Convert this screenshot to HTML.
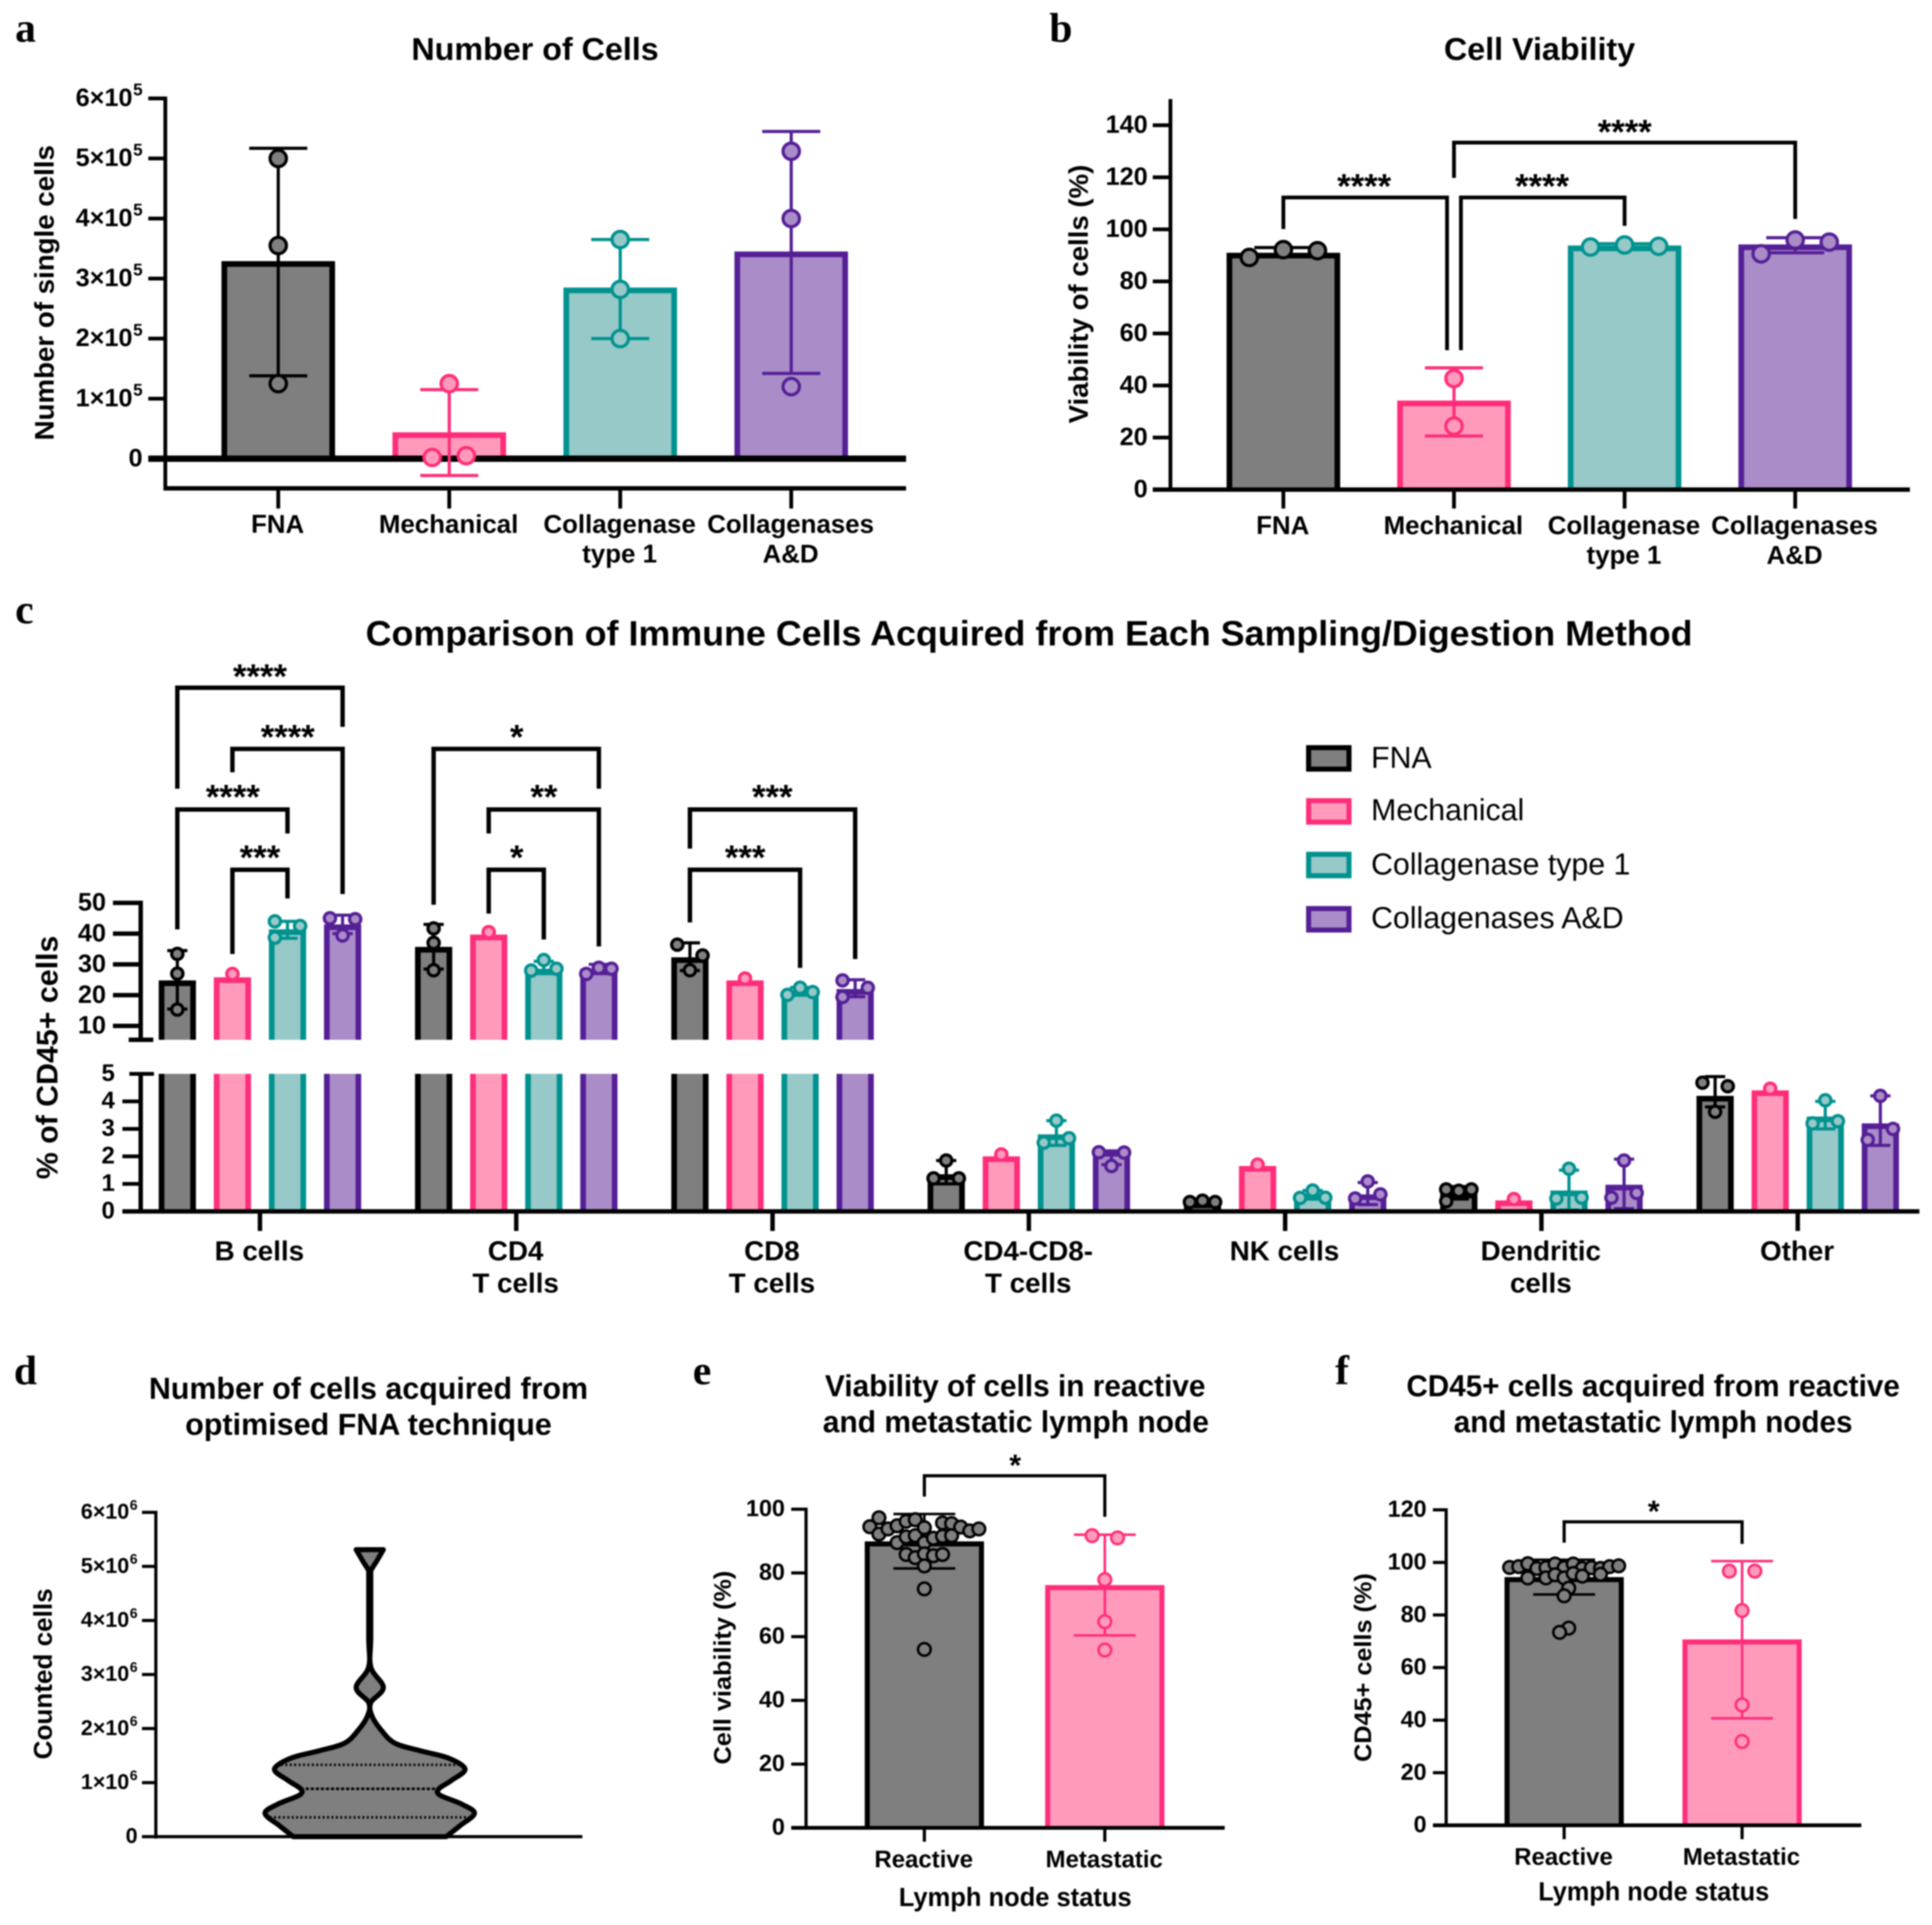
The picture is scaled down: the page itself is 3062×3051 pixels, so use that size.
<!DOCTYPE html>
<html lang="en">
<head>
<meta charset="utf-8">
<title>Immune cell sampling and digestion comparison</title>
<style>
html,body{margin:0;padding:0;background:#fff;}
svg{display:block;width:3062px;height:3051px;filter:blur(1px);}
text{font-family:"Liberation Sans",Arial,sans-serif;fill:#000;}
.title{font-weight:700;text-anchor:middle;}
.panel{font-family:"Liberation Serif",serif;font-weight:700;font-size:66px;}
</style>
</head>
<body>
<svg id="figure" xmlns="http://www.w3.org/2000/svg" width="3062" height="3051" viewBox="0 0 3062 3051">
<rect x="0" y="0" width="3062" height="3051" fill="#fff"/>
<text class="panel" x="24" y="66">a</text>
<text class="panel" x="1663" y="66">b</text>
<text class="panel" x="24" y="988">c</text>
<text class="panel" x="22" y="2194">d</text>
<text class="panel" x="1098" y="2194">e</text>
<text class="panel" x="2116" y="2194">f</text>
<text class="title" x="848" y="95" font-size="50" textLength="392" lengthAdjust="spacingAndGlyphs">Number of Cells</text>
<text class="title" x="2440" y="95" font-size="50" textLength="303" lengthAdjust="spacingAndGlyphs">Cell Viability</text>
<text class="title" x="1631" y="1023" font-size="56" textLength="2103" lengthAdjust="spacingAndGlyphs">Comparison of Immune Cells Acquired from Each Sampling/Digestion Method</text>
<text class="title" x="584" y="2217" font-size="48" textLength="696" lengthAdjust="spacingAndGlyphs">Number of cells acquired from</text>
<text class="title" x="584" y="2274" font-size="48" textLength="581" lengthAdjust="spacingAndGlyphs">optimised FNA technique</text>
<text class="title" x="1609" y="2213" font-size="48" textLength="603" lengthAdjust="spacingAndGlyphs">Viability of cells in reactive</text>
<text class="title" x="1610" y="2270" font-size="48" textLength="612" lengthAdjust="spacingAndGlyphs">and metastatic lymph node</text>
<text class="title" x="2620" y="2213" font-size="48" textLength="782" lengthAdjust="spacingAndGlyphs">CD45+ cells acquired from reactive</text>
<text class="title" x="2620" y="2270" font-size="48" textLength="632" lengthAdjust="spacingAndGlyphs">and metastatic lymph nodes</text>
<text class="title" x="1609" y="3021" font-size="42" textLength="369" lengthAdjust="spacingAndGlyphs">Lymph node status</text>
<text class="title" x="2621" y="3012" font-size="42" textLength="366" lengthAdjust="spacingAndGlyphs">Lymph node status</text>
<text class="title" transform="translate(85 464) rotate(-90)" font-size="43" textLength="468" lengthAdjust="spacingAndGlyphs">Number of single cells</text>
<text class="title" transform="translate(1724 466) rotate(-90)" font-size="43" textLength="410" lengthAdjust="spacingAndGlyphs">Viability of cells (%)</text>
<text class="title" transform="translate(91 1676) rotate(-90)" font-size="47" textLength="386" lengthAdjust="spacingAndGlyphs">% of CD45+ cells</text>
<text class="title" transform="translate(82 2653) rotate(-90)" font-size="41" textLength="271" lengthAdjust="spacingAndGlyphs">Counted cells</text>
<text class="title" transform="translate(1158 2643) rotate(-90)" font-size="38" textLength="307" lengthAdjust="spacingAndGlyphs">Cell viability (%)</text>
<text class="title" transform="translate(2173 2643) rotate(-90)" font-size="38" textLength="299" lengthAdjust="spacingAndGlyphs">CD45+ cells (%)</text>
<g id="chart-a"></g>
<g id="chart-b"></g>
<g id="chart-c"></g>
<g id="chart-d"></g>
<g id="chart-e"></g>
<g id="chart-f"></g>
</svg>
<script>
/* ---------- shared series ---------- */
const seriesNames = ['FNA', 'Mechanical', 'Collagenase type 1', 'Collagenases A&D'];
const methodCategories = [['FNA'], ['Mechanical'], ['Collagenase', 'type 1'], ['Collagenases', 'A&D']];

/* ---------- panel a ---------- */
const aTickValues = [0, 100000, 200000, 300000, 400000, 500000, 600000];
const aTickLabels = ['0', '1×10^5', '2×10^5', '3×10^5', '4×10^5', '5×10^5', '6×10^5'];
const aMeans = [329000, 44000, 285000, 345000];
const aErrLow = [138000, -28000, 200000, 142000];
const aErrHigh = [517000, 115000, 365000, 545000];
const aPoints = [[500000, 355000, 125000], [125000, 2000, 5000], [365000, 282000, 200000], [512000, 400000, 120000]];
const aPointSlots = [[0, 0, 0], [0, -1, 1], [0, 0, 0], [0, 0, 0]];

/* ---------- panel b ---------- */
const bTickValues = [0, 20, 40, 60, 80, 100, 120, 140];
const bTickLabels = ['0', '20', '40', '60', '80', '100', '120', '140'];
const bMeans = [91, 34.2, 93.8, 94.2];
const bErrLow = [89.5, 20.6, 92.7, 91];
const bErrHigh = [93, 46.8, 94.5, 96.8];
const bPoints = [[89.2, 92.2, 91.8], [42.7, 24.4], [93.2, 94, 93.5], [90.6, 95.9, 95.1]];
const bPointSlots = [[-2, 0, 2], [0, 0], [-2, 0, 2], [-2, 0, 2]];

/* ---------- panel c ---------- */
const cCategories = [['B cells'], ['CD4', 'T cells'], ['CD8', 'T cells'], ['CD4-CD8-', 'T cells'], ['NK cells'], ['Dendritic', 'cells'], ['Other']];
const cHighTicks = [10, 20, 30, 40, 50];
const cLowTicks = [0, 1, 2, 3, 4, 5];
const cMeans = [[24.8, 25.8, 41.4, 43], [35.7, 39.7, 28.6, 28.6], [32.3, 24.8, 21.3, 22], [1.35, 2, 2.8, 2.2], [0.32, 1.65, 0.6, 0.62], [0.68, 0.4, 0.76, 0.97], [4.2, 4.4, 3.45, 3.2]];
const cErrLow = [[15.5, 25.8, 38.5, 40], [28.5, 39.7, 27, 27], [28, 24.8, 20, 19.5], [1, 2, 2.4, 1.7], [0.28, 1.65, 0.45, 0.25], [0.45, 0.4, 0.05, 0.1], [3.8, 4.4, 3, 2.4]];
const cErrHigh = [[34.5, 25.8, 44, 46], [43, 39.7, 31, 30], [37, 24.8, 22.5, 25], [1.85, 2, 3.3, 2.2], [0.38, 1.65, 0.76, 1.05], [0.9, 0.4, 1.5, 1.9], [4.9, 4.4, 4, 4.2]];
const cPoints = [
  [[33.4, 27, 15.3], [26.9], [44, 38.7, 42.5], [45, 39.4, 44.7]],
  [[41.7, 37, 28.1], [40.5], [28, 31.4, 28.6], [26.9, 28.9, 28.6]],
  [[36.4, 28.1, 32.9], [25.4], [20.1, 22.4, 21], [24.8, 19.4, 22.4]],
  [[1.2, 1.85, 1.2], [2.07], [2.5, 3.3, 2.66], [2.15, 1.65, 2.14]],
  [[0.34, 0.39, 0.34], [1.7], [0.49, 0.76, 0.5], [0.47, 1.09, 0.62]],
  [[0.8, 0.37, 0.75, 0.8], [0.45], [0.47, 1.55, 0.5], [0.5, 1.85, 0.67]],
  [[4.68, 3.62, 4.55], [4.46], [3.2, 4.04, 3.28], [2.6, 4.2, 3]]
];
const cPointSlots = [
  [[0, 0, 0], [0], [-1, -1, 1], [-1, 0, 1]],
  [[0, 0, 0], [0], [-1, 0, 1], [-1, 0, 1]],
  [[-1, 0, 1], [0], [-1, 0, 1], [-1, -1, 1]],
  [[-1, 0, 1], [0], [-1, 0, 1], [-1, 0, 1]],
  [[-1, 0, 1], [0], [-1, 0, 1], [-1, 0, 1]],
  [[-1, -1, 0, 1], [0], [-1, 0, 1], [-1, 0, 1]],
  [[-1, 0, 1], [0], [-1, 0, 1], [-1, 0, 1]]
];

/* ---------- panel d ---------- */
const dTickValues = [0, 1000000, 2000000, 3000000, 4000000, 5000000, 6000000];
const dTickLabels = ['0', '1×10^6', '2×10^6', '3×10^6', '4×10^6', '5×10^6', '6×10^6'];
const violinLevels = [0, 200000, 430000, 600000, 770000, 885000, 1040000, 1250000, 1455000, 1590000, 1730000, 1970000, 2240000, 2480000, 2760000, 3140000, 3700000, 4850000, 4920000, 5110000, 5310000];
const violinDensity = [73, 86, 100, 88, 67, 66, 78, 91, 75, 48, 24, 11, 2, 1, 13, 1, 1, 1, 1, 7, 13];
const violinQuartiles = [357000, 885000, 1330000];

/* ---------- panel e ---------- */
const statusCategories = [['Reactive'], ['Metastatic']];
const eTickValues = [0, 20, 40, 60, 80, 100];
const eTickLabels = ['0', '20', '40', '60', '80', '100'];
const eMeans = [89.9, 76.2];
const eErrLow = [81.4, 60.4];
const eErrHigh = [98.5, 92];
const eReactive = [97.3, 94.5, 92.2, 93.8, 94.8, 89.5, 96.2, 91.3, 96.7, 91.7, 94.2, 89.5, 90.9, 95.7, 91.5, 95.5, 91.7, 94.4, 93.2, 93.8, 85.8, 84.8, 86, 85.4, 85.8, 82.2, 75, 56];
const eReactiveSlots = [-5, -6, -5, -4, -3, -3, -2, -2, -1, -1, 0, 0, 1, 2, 2, 3, 3, 4, 5, 6, -2, -1, 0, 1, 2, 0, 0, 0];
const eMetastatic = [91.7, 91, 77.9, 64.7, 55.8];
const eMetastaticSlots = [-1.4, 1.4, 0, 0, 0];

/* ---------- panel f ---------- */
const fTickValues = [0, 20, 40, 60, 80, 100, 120];
const fTickLabels = ['0', '20', '40', '60', '80', '100', '120'];
const fMeans = [94.4, 70.7];
const fErrLow = [87.8, 40.7];
const fErrHigh = [101, 100.5];
const fReactive = [98.1, 98.4, 99.5, 97.7, 98, 99.4, 98, 99.4, 97.7, 98, 97.7, 98.4, 98.7, 94.1, 94.1, 95.3, 94.1, 95.8, 94.8, 95.5, 90.2, 87.3, 75, 73.4];
const fReactiveSlots = [-6, -5, -4, -3, -2, -1, 0, 1, 2, 3, 4, 5, 6, -4, -2, -1, 0, 1, 2, 4, 0.5, 0, 0.5, -0.5];
const fMetastatic = [96.7, 96.7, 81.7, 45.8, 31.9];
const fMetastaticSlots = [-1.4, 1.4, 0, 0, 0];

/* ---------- styling (not data) ---------- */
const FILLS = ['#7f7f7f', '#ff9abb', '#96c9c8', '#a98cc8'];
const STROKES = ['#000000', '#ff2d7a', '#00928f', '#551f96'];
const NS = 'http://www.w3.org/2000/svg';

function add(parent, tagName, attrs, name, text) {
  const node = document.createElementNS(NS, tagName);
  for (const key in attrs) node.setAttribute(key, attrs[key]);
  
  
  if (text !== undefined) node.textContent = text;
  parent.appendChild(node);
  return node;
}
function linear(d0, d1, r0, r1) {
  return function (v) { return r0 + (v - d0) * (r1 - r0) / (d1 - d0); };
}
function line(g, x1, y1, x2, y2, stroke, width, name) {
  return add(g, 'line', { x1: x1, y1: y1, x2: x2, y2: y2, stroke: stroke, 'stroke-width': width }, name);
}
function tickLabel(g, x, y, label, size, supSize, name) {
  const parts = label.split('^');
  const t = add(g, 'text', { x: x, y: y + size * 0.3, 'text-anchor': 'end', 'font-size': size, 'font-weight': 700 }, name, parts[0]);
  if (parts[1]) {
    const sup = add(t, 'tspan', { dy: -size * 0.42, 'font-size': supSize }, name + '-exponent', parts[1]);
    sup.setAttribute('dx', 1);
  }
}
function yAxis(g, y, values, labels, axisX, tickLeft, labelRight, top, bottom, width, size, supSize, key) {
  line(g, axisX, top, axisX, bottom, '#000', width, 'y-axis-line-' + key);
  values.forEach(function (v, i) {
    line(g, tickLeft, y(v), axisX + width / 2, y(v), '#000', width, 'y-tick-' + key + '-' + labels[i]);
    tickLabel(g, labelRight, y(v), labels[i], size, supSize, 'y-tick-label-' + key + '-' + labels[i]);
  });
}
function categoryLabels(g, x, categories, tickTop, tickBottom, width, lineY, size, key) {
  categories.forEach(function (lines, i) {
    const slug = lines[0].toLowerCase().replace(/[^a-z0-9]+/g, '-');
    line(g, x(i), tickTop, x(i), tickBottom, '#000', width, 'x-tick-' + key + '-' + slug);
    lines.forEach(function (s, j) {
      add(g, 'text', { x: x(i) - 1, y: lineY[j] + size * 0.28, 'text-anchor': 'middle', 'font-size': size, 'font-weight': 700 }, 'x-tick-label-' + key + '-' + slug + '-' + (j + 1), s);
    });
  });
}
function barRect(g, cx, top, base, w, sw, s, name) {
  add(g, 'rect', { x: cx - w / 2 + sw / 2, y: top + sw / 2, width: w - sw, height: base - top - sw / 2, fill: FILLS[s], stroke: 'none' }, name + '-fill');
  add(g, 'path', { d: 'M' + (cx - w / 2 + sw / 2) + ' ' + base + 'V' + (top + sw / 2) + 'H' + (cx + w / 2 - sw / 2) + 'V' + base, fill: 'none', stroke: STROKES[s], 'stroke-width': sw }, name);
}
function errorBar(g, cx, yLow, yHigh, halfCap, width, s, name) {
  line(g, cx, yLow, cx, yHigh, STROKES[s], width, name + '-stem');
  line(g, cx - halfCap, yHigh, cx + halfCap, yHigh, STROKES[s], width, name + '-cap-high');
  line(g, cx - halfCap, yLow, cx + halfCap, yLow, STROKES[s], width, name + '-cap-low');
}
function dot(g, x, y, r, sw, s, name) {
  add(g, 'circle', { cx: x, cy: y, r: r, fill: FILLS[s], stroke: STROKES[s], 'stroke-width': sw }, name);
}
function bracket(g, x1, x2, y, end1, end2, stars, starX, starY, size, width, name) {
  add(g, 'path', { d: 'M' + x1 + ' ' + end1 + 'V' + y + 'H' + x2 + 'V' + end2, fill: 'none', stroke: '#000', 'stroke-width': width }, name);
  add(g, 'text', { x: starX, y: starY + size * 0.41, 'text-anchor': 'middle', 'font-size': size, 'font-weight': 700 }, name + '-significance', stars);
}

/* ---------- panel a ---------- */
(function () {
  const g = document.getElementById('chart-a');
  const y = linear(0, 600000, 727, 156);
  const x = function (i) { return 441 + i * 271; };
  aMeans.forEach(function (m, i) {
    barRect(g, x(i), y(m), y(0), 180, 9, i, 'bar-a-' + i);
  });
  line(g, 235, y(0), 1436, y(0), '#000', 10, 'zero-line-a');
  aMeans.forEach(function (m, i) {
    errorBar(g, x(i), y(aErrLow[i]), y(aErrHigh[i]), 46, 5, i, 'error-bar-a-' + i);
    aPoints[i].forEach(function (p, j) {
      dot(g, x(i) + aPointSlots[i][j] * 27, y(p), 13, 5, i, 'point-a-' + i + '-' + j);
    });
  });
  yAxis(g, y, aTickValues, aTickLabels, 262, 235, 226, 156, 777, 6, 40, 27, 'a');
  line(g, 259, 774, 1436, 774, '#000', 7, 'x-axis-line-a');
  categoryLabels(g, x, methodCategories, 774, 806, 6, [833, 880], 41, 'a');
})();

/* ---------- panel b ---------- */
(function () {
  const g = document.getElementById('chart-b');
  const y = linear(0, 140, 776, 198.5);
  const x = function (i) { return 2034 + i * 270.4; };
  bMeans.forEach(function (m, i) {
    barRect(g, x(i), y(m), y(0), 180, 9, i, 'bar-b-' + i);
    errorBar(g, x(i), y(bErrLow[i]), y(bErrHigh[i]), 46, 5, i, 'error-bar-b-' + i);
    bPoints[i].forEach(function (p, j) {
      dot(g, x(i) + bPointSlots[i][j] * 27, y(p), 13, 5, i, 'point-b-' + i + '-' + j);
    });
  });
  yAxis(g, y, bTickValues, bTickLabels, 1855, 1827, 1819, 157, 776, 6, 40, 27, 'b');
  line(g, 1827, 776, 3027, 776, '#000', 7, 'x-axis-line-b');
  categoryLabels(g, x, methodCategories, 776, 806, 6, [835, 882], 41, 'b');
  bracket(g, x(0), x(1) - 11, 313, 363, 555, '****', 2162, 291, 55, 6, 'bracket-fna-mechanical-b');
  bracket(g, x(1) + 11, x(2), 313, 555, 358, '****', 2444, 291, 55, 6, 'bracket-mechanical-collagenase-b');
  bracket(g, x(1), x(3), 226, 282, 347, '****', 2575, 205, 55, 6, 'bracket-mechanical-collagenases-ad-b');
})();

/* ---------- panel c ---------- */
(function () {
  const g = document.getElementById('chart-c');
  const yLow = linear(0, 5, 1920, 1702);
  const yHigh = linear(10, 50, 1626, 1431);
  const yOf = function (v) { return v <= 5 ? yLow(v) : yHigh(v); };
  const groupX = function (i) { return 412 + i * 406.2; };
  const barX = function (i, s) { return groupX(i) + (s - 1.5) * 87.3; };
  const w = 59, sw = 9;
  cMeans.forEach(function (means, i) {
    means.forEach(function (m, s) {
      const cx = barX(i, s);
      const name = 'bar-c-' + i + '-' + s;
      if (m > 5) {
        add(g, 'rect', { x: cx - w / 2 + sw / 2, y: yLow(5), width: w - sw, height: yLow(0) - yLow(5), fill: FILLS[s] }, name + '-lower-fill');
        add(g, 'path', { d: 'M' + (cx - w / 2 + sw / 2) + ' ' + yLow(5) + 'V' + yLow(0) + 'M' + (cx + w / 2 - sw / 2) + ' ' + yLow(5) + 'V' + yLow(0), fill: 'none', stroke: STROKES[s], 'stroke-width': sw }, name + '-lower');
        barRect(g, cx, yHigh(m), 1648, w, sw, s, name);
      } else {
        barRect(g, cx, yLow(m), yLow(0), w, sw, s, name);
      }
      if (cErrHigh[i][s] > cErrLow[i][s]) {
        errorBar(g, cx, yOf(cErrLow[i][s]), yOf(cErrHigh[i][s]), 16, 5, s, 'error-bar-c-' + i + '-' + s);
      }
      cPoints[i][s].forEach(function (p, j) {
        dot(g, cx + cPointSlots[i][s][j] * 20, yOf(p), 9, 5, s, 'point-c-' + i + '-' + s + '-' + j);
      });
    });
  });
  yAxis(g, yHigh, cHighTicks, cHighTicks.map(String), 223, 179, 168, 1431, 1650, 7, 40, 25, 'c-upper');
  line(g, 204, 1648, 243, 1648, '#000', 7, 'axis-break-tick-upper-c');
  line(g, 223, 1702, 223, 1920, '#000', 7, 'y-axis-line-c-lower');
  cLowTicks.forEach(function (v) {
    line(g, v === 5 ? 205 : 194, yLow(v), v === 5 ? 244 : 226, yLow(v), '#000', 6, 'y-tick-c-lower-' + v);
    add(g, 'text', { x: 182, y: yLow(v) + 11, 'text-anchor': 'end', 'font-size': 38, 'font-weight': 700 }, 'y-tick-label-c-lower-' + v, String(v));
  });
  line(g, 194, 1920, 3042, 1920, '#000', 7, 'x-axis-line-c');
  categoryLabels(g, groupX, cCategories, 1920, 1951, 7, [1985, 2036], 44, 'c');

  const st = 55, lw = 7;
  bracket(g, barX(0, 0), barX(0, 3), 1090, 1250, 1152, '****', 412, 1068, st, lw, 'bracket-b-cells-fna-ad');
  bracket(g, barX(0, 1), barX(0, 3), 1187, 1224, 1417, '****', 456, 1164, st, lw, 'bracket-b-cells-mechanical-ad');
  bracket(g, barX(0, 0), barX(0, 2), 1283, 1473, 1321, '****', 369, 1259, st, lw, 'bracket-b-cells-fna-collagenase');
  bracket(g, barX(0, 1), barX(0, 2), 1378.5, 1512, 1424, '***', 412, 1355, st, lw, 'bracket-b-cells-mechanical-collagenase');
  bracket(g, barX(1, 0), barX(1, 3), 1187, 1434, 1250, '*', 819, 1164, st, lw, 'bracket-cd4-fna-ad');
  bracket(g, barX(1, 1), barX(1, 3), 1283, 1321, 1500, '**', 862, 1259, st, lw, 'bracket-cd4-mechanical-ad');
  bracket(g, barX(1, 1), barX(1, 2), 1378.5, 1448, 1489, '*', 819, 1355, st, lw, 'bracket-cd4-mechanical-collagenase');
  bracket(g, barX(2, 0), barX(2, 3), 1283, 1345, 1520, '***', 1224, 1259, st, lw, 'bracket-cd8-fna-ad');
  bracket(g, barX(2, 0), barX(2, 2), 1378.5, 1462, 1534, '***', 1181, 1355, st, lw, 'bracket-cd8-fna-collagenase');

  const legendSwatchY = [1181, 1265, 1350, 1436];
  const legendTextY = [1202, 1285, 1371, 1456];
  seriesNames.forEach(function (n, s) {
    add(g, 'rect', { x: 2074, y: legendSwatchY[s] + 4, width: 64, height: 34, fill: FILLS[s], stroke: STROKES[s], 'stroke-width': 8 }, 'legend-swatch-' + s);
    add(g, 'text', { x: 2173, y: legendTextY[s] + 15, 'font-size': 48 }, 'legend-label-' + s, n);
  });
})();

/* ---------- panel d ---------- */
(function () {
  const g = document.getElementById('chart-d');
  const y = linear(0, 6000000, 2911, 2397);
  const cx = 586;
  const hw = function (d) { return d * 1.66; };
  const pts = violinLevels.map(function (v, i) { return [hw(violinDensity[i]), y(v)]; });
  function spline(list) {
    let d = '';
    for (let i = 0; i < list.length - 1; i++) {
      const p0 = list[Math.max(i - 1, 0)], p1 = list[i], p2 = list[i + 1], p3 = list[Math.min(i + 2, list.length - 1)];
      d += 'C' + (p1[0] + (p2[0] - p0[0]) / 6) + ' ' + (p1[1] + (p2[1] - p0[1]) / 6) + ' ' + (p2[0] - (p3[0] - p1[0]) / 6) + ' ' + (p2[1] - (p3[1] - p1[1]) / 6) + ' ' + p2[0] + ' ' + p2[1];
    }
    return d;
  }
  const right = pts.map(function (p) { return [cx + p[0], p[1]]; });
  const left = pts.slice().reverse().map(function (p) { return [cx - p[0], p[1]]; });
  const d = 'M' + right[0][0] + ' ' + right[0][1] + spline(right) + 'L' + left[0][0] + ' ' + left[0][1] + spline(left) + 'Z';
  add(g, 'path', { d: d, fill: '#7f7f7f', stroke: '#000', 'stroke-width': 8, 'stroke-linejoin': 'round' }, 'violin-body');
  function widthAt(v) {
    for (let i = 0; i < violinLevels.length - 1; i++) {
      if (v >= violinLevels[i] && v <= violinLevels[i + 1]) {
        return hw(violinDensity[i] + (violinDensity[i + 1] - violinDensity[i]) * (v - violinLevels[i]) / (violinLevels[i + 1] - violinLevels[i]));
      }
    }
    return 0;
  }
  violinQuartiles.forEach(function (q, i) {
    const h = widthAt(q);
    const l = line(g, cx - h, y(q), cx + h, y(q), '#000', 4, 'violin-quartile-' + i);
    l.setAttribute('stroke-dasharray', i === 1 ? '5 3' : '3 4');
  });
  yAxis(g, y, dTickValues, dTickLabels, 247, 225, 218, 2397, 2914, 5, 34, 22, 'd');
  line(g, 225, 2911, 923, 2911, '#000', 5, 'x-axis-line-d');
})();

/* ---------- panels e and f ---------- */
function statusPanel(id, key, y, x, ticks, labels, axisX, tickLeft, labelRight, top, base, rightEnd, tickBottom, labelY, means, lo, hi, react, reactSlots, meta, metaSlots) {
  const g = document.getElementById(id);
  means.forEach(function (m, i) {
    barRect(g, x(i), y(m), base, 189, 8, i, 'bar-' + key + '-' + statusCategories[i][0].toLowerCase());
    errorBar(g, x(i), y(lo[i]), y(hi[i]), 49, 4, i, 'error-bar-' + key + '-' + statusCategories[i][0].toLowerCase());
  });
  react.forEach(function (v, j) {
    dot(g, x(0) + reactSlots[j] * 14.4, y(v), 10, 4, 0, 'point-' + key + '-reactive-' + j);
  });
  meta.forEach(function (v, j) {
    dot(g, x(1) + metaSlots[j] * 14.4, y(v), 10, 4, 1, 'point-' + key + '-metastatic-' + j);
  });
  yAxis(g, y, ticks, labels, axisX, tickLeft, labelRight, top, base, 5, 37, 22, key);
  line(g, tickLeft, base, rightEnd, base, '#000', 6, 'x-axis-line-' + key);
  categoryLabels(g, x, statusCategories, base, tickBottom, 5, [labelY], 38, key);
}
(function () {
  const y = linear(0, 100, 2897, 2392);
  const x = function (i) { return 1465 + i * 286; };
  statusPanel('chart-e', 'e', y, x, eTickValues, eTickLabels, 1277.5, 1254, 1244, 2392, 2897, 1941, 2919, 2949, eMeans, eErrLow, eErrHigh, eReactive, eReactiveSlots, eMetastatic, eMetastaticSlots);
  bracket(document.getElementById('chart-e'), x(0), x(1), 2339, 2372, 2404, '*', 1609, 2319, 48, 5, 'bracket-reactive-metastatic-e');
})();
(function () {
  const y = linear(0, 120, 2893, 2393);
  const x = function (i) { return 2479 + i * 282; };
  statusPanel('chart-f', 'f', y, x, fTickValues, fTickLabels, 2292, 2271, 2261, 2393, 2893, 2950, 2915, 2945, fMeans, fErrLow, fErrHigh, fReactive, fReactiveSlots, fMetastatic, fMetastaticSlots);
  bracket(document.getElementById('chart-f'), x(0), x(1), 2412, 2445, 2447, '*', 2621, 2392, 48, 5, 'bracket-reactive-metastatic-f');
})();
</script>
</body>
</html>
